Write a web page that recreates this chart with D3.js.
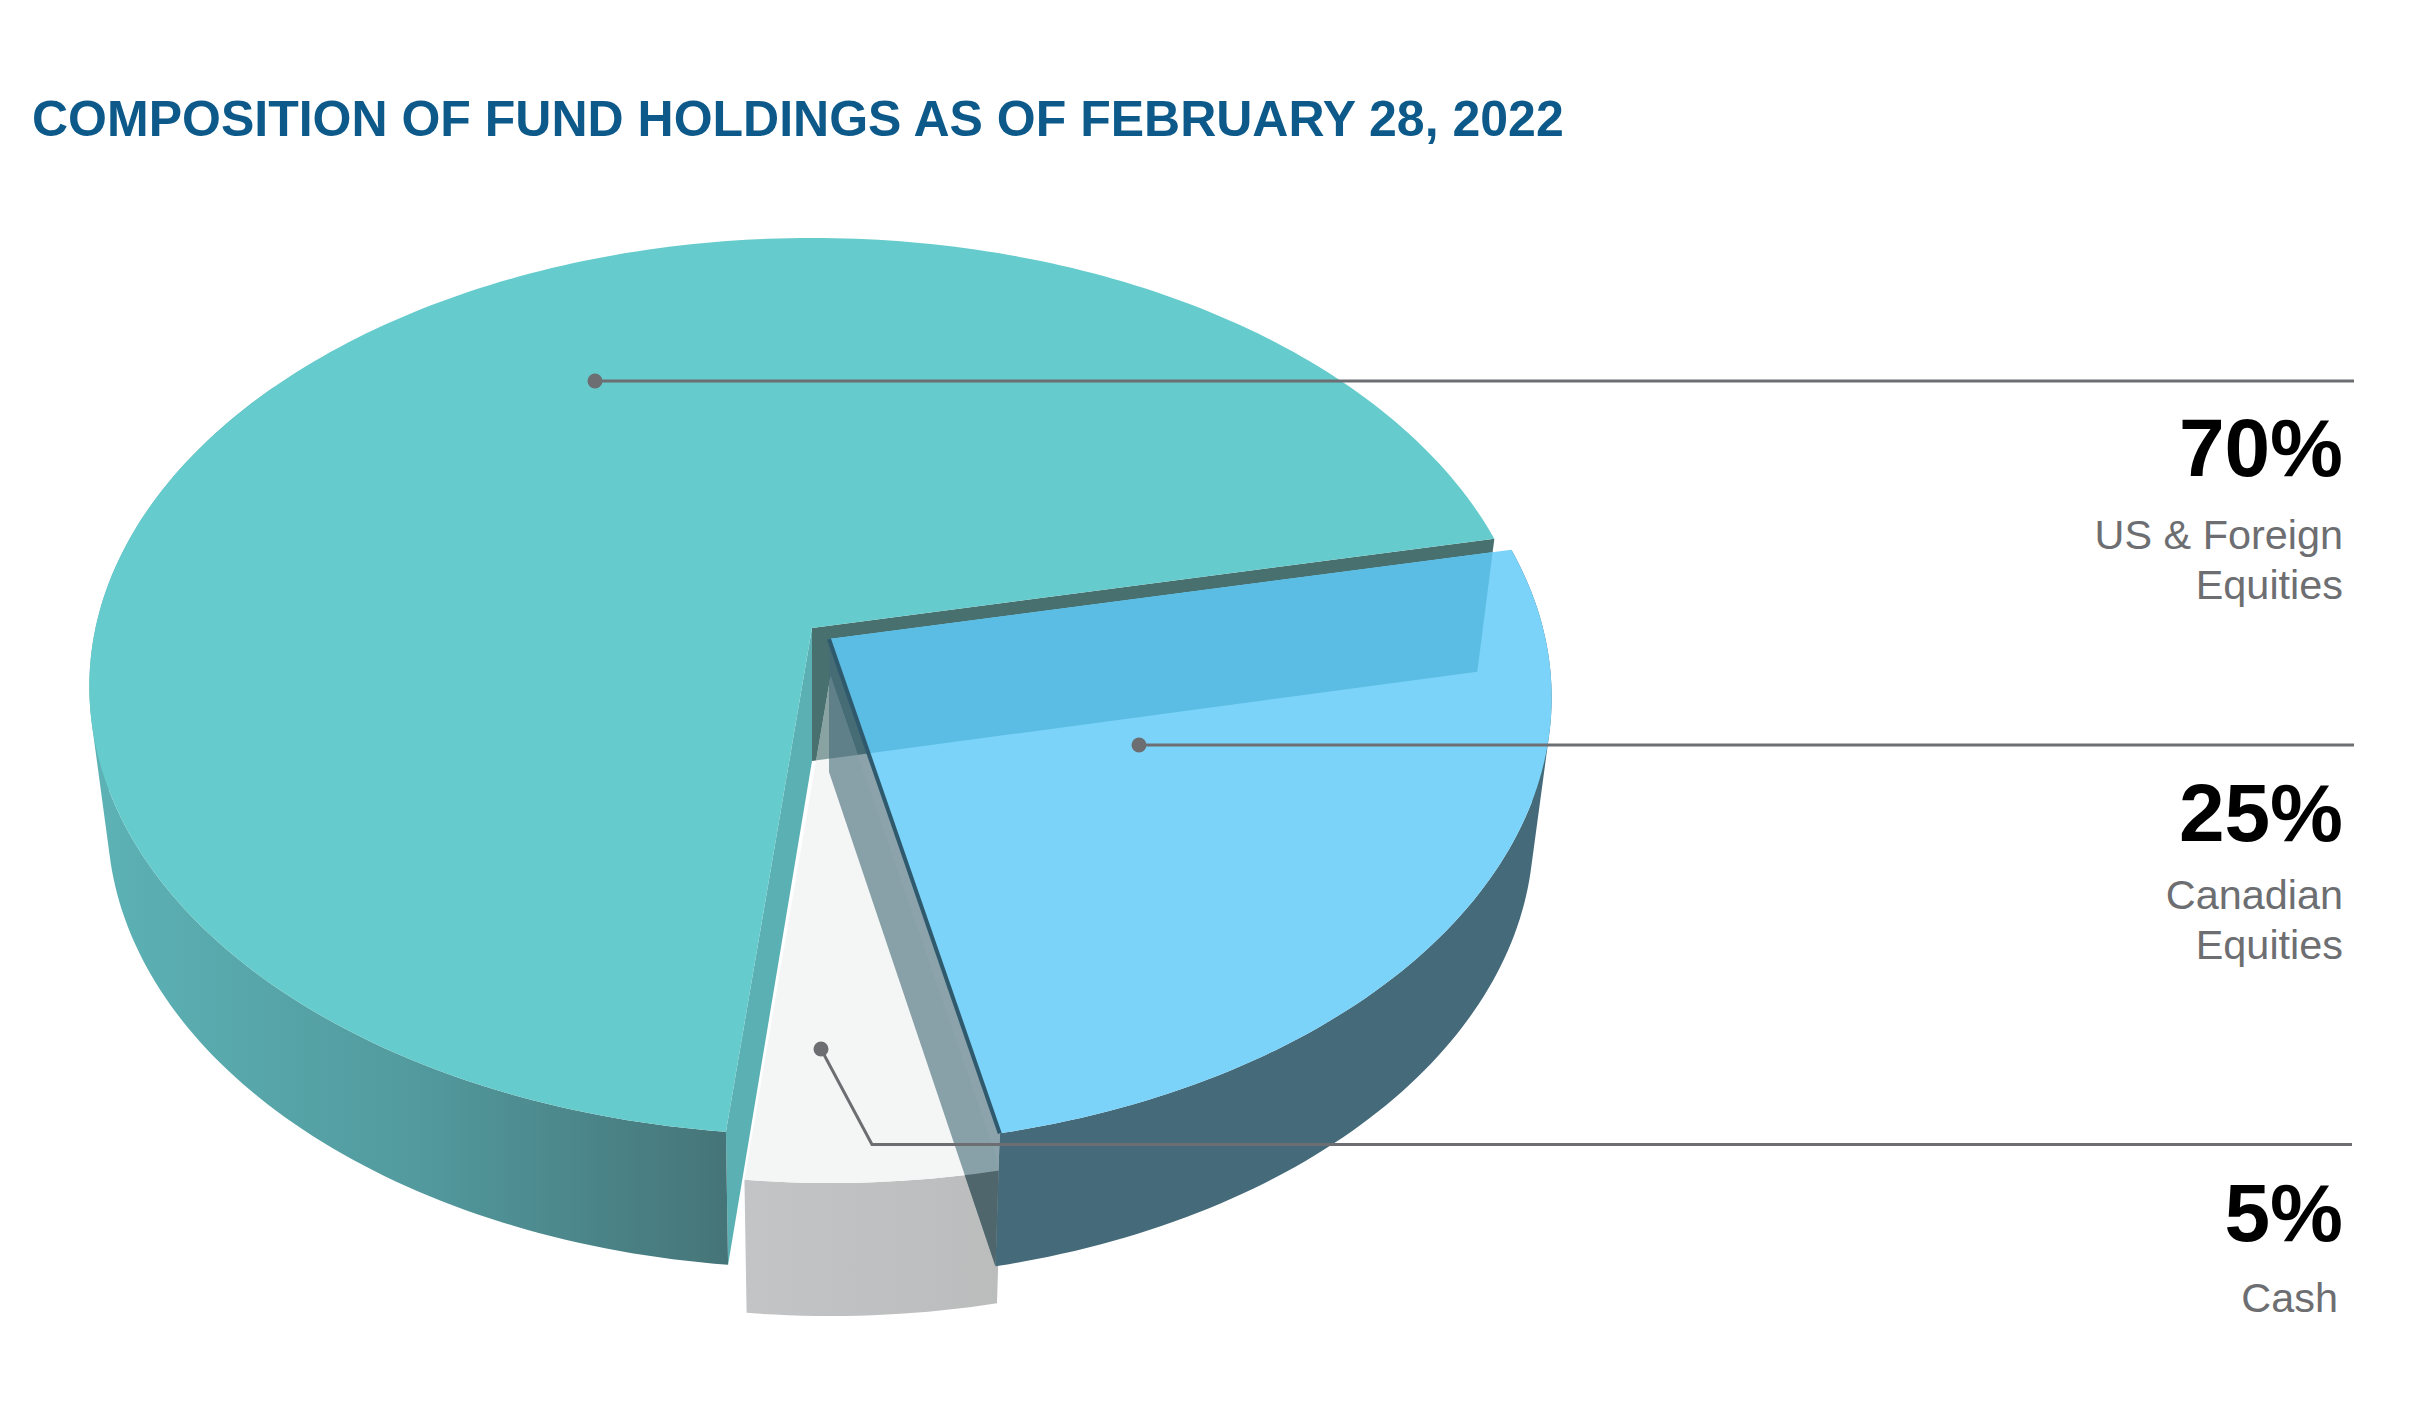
<!DOCTYPE html>
<html><head><meta charset="utf-8">
<script src="https://cdn.jsdelivr.net/npm/d3@7"></script>
<style>html,body{margin:0;padding:0;background:#fff}svg{display:block}text{font-family:"Liberation Sans",Arial,sans-serif}</style>
</head><body><div id="c"></div>
<script>
const categories=["US & Foreign Equities","Canadian Equities","Cash"];
const values=[70,25,5];
const percentLabels=["70%","25%","5%"];
const labelLines=[["US & Foreign","Equities"],["Canadian","Equities"],["Cash"]];
const titleText="COMPOSITION OF FUND HOLDINGS AS OF FEBRUARY 28, 2022";

const W=2423,H=1423,deg=Math.PI/180;
const svg=d3.select("#c").append("svg").attr("width",W).attr("height",H).attr("viewBox",[0,0,W,H]);
const defs=svg.append("defs");

// perspective projection of a pie lying on a plane
const cx=812,cy=628,A=440.9,B=716.5,K=0.1304,depth=133,baseScale=0.975;
const offsets=[[0,0],[17,11],[18.5,48]];
const arcs=d3.pie().sort(null).value(d=>d).startAngle(-174*deg).endAngle(186*deg)(values);

function P(t,r,low,off){
  const u=r*Math.sin(t),v=-r*Math.cos(t),w=1-K*v;
  let x=B*u/w,y=A*v/w;
  if(low){x*=baseScale;y+=depth;}
  return [cx+off[0]+x,cy+off[1]+y];
}
const line=d3.line();
const rim=(a,b,low,off)=>{const n=Math.max(2,Math.ceil(Math.abs(b-a)/deg));return d3.range(n+1).map(i=>P(a+(b-a)*i/n,1,low,off));};
const face=(a,off)=>line(rim(a.startAngle,a.endAngle,false,off).concat([P(0,0,false,off)]))+"Z";
const cut=(t,off)=>line([P(0,0,false,off),P(t,1,false,off),P(t,1,true,off),P(0,0,true,off)])+"Z";
function wall(a0,a1,off){
  const n=Math.ceil(Math.abs(a1-a0)/deg);let d="";
  for(let i=0;i<n;i++){
    const s=a0+(a1-a0)*i/n,e=a0+(a1-a0)*(i+1)/n;
    let q=[P(s,1,false,off),P(e,1,false,off),P(e,1,true,off),P(s,1,true,off)];
    if(d3.polygonArea(q)<0)q.reverse();
    d+=line(q)+"Z";
  }
  return d;
}
function grad(id,x1,x2,stops){
  const g=defs.append("linearGradient").attr("id",id).attr("gradientUnits","userSpaceOnUse").attr("x1",x1).attr("x2",x2).attr("y1",0).attr("y2",0);
  stops.forEach(s=>g.append("stop").attr("offset",s[0]).attr("stop-color",s[1]));
}
grad("gTeal",100,730,[[0,"#5cb2b5"],[.5,"#529a9e"],[1,"#457478"]]);
grad("gCash",745,1005,[[0,"#c3c4c6"],[1,"#bbbcbc"]]);
const clip=(id,d)=>defs.append("clipPath").attr("id",id).append("path").attr("d",d);

const [teal,blue,cash]=arcs;
const [o0,o1,o2]=offsets;
const backWall=cut(teal.endAngle,o0);
clip("cCashTop",face(cash,o2));
const cashWall=wall(cash.startAngle,cash.endAngle,o2);
clip("cCashWall",cashWall);
clip("cBlueTop",face(blue,o1));

const dark="#47706f",slate="#456a79";
const add=(d,fill,extra={})=>{const p=svg.append("path").attr("d",d).attr("fill",fill);Object.entries(extra).forEach(([k,v])=>p.attr(k,v));return p;};

add(backWall,dark);
add(cashWall,"url(#gCash)");
add(face(cash,o2),"#f4f6f5");
add(backWall,dark,{"fill-opacity":.62,"clip-path":"url(#cCashTop)"});
// teal
add(cut(teal.startAngle,o0),"#5bb0b3");
add(wall(teal.startAngle,teal.startAngle+120*deg,o0),"url(#gTeal)");
add(face(teal,o0),"#66cbcc");
// blue
add(wall(blue.startAngle,blue.endAngle,o1),slate);
add(cut(blue.endAngle,o1),slate,{"fill-opacity":.62});
add(cut(blue.endAngle,o1),"#4f666c",{"clip-path":"url(#cCashWall)"});
add(face(blue,o1),"#7bd3f9");
add(backWall,"#5cbde4",{"clip-path":"url(#cBlueTop)"});
// thin dark edge along the blue slice
svg.append("path").attr("d",line([P(0,0,false,o1),P(blue.endAngle,1,false,o1)])).attr("stroke","#2f5a6e").attr("stroke-width",4).attr("fill","none");

// leaders
const ink="#6d6e71";
const leaders=[
  [[595,381],[2354,381]],
  [[1139,745],[2354,745]],
  [[821,1049],[872,1144.5],[2352,1144.5]]
];
leaders.forEach(l=>{
  svg.append("path").attr("d",line(l)).attr("fill","none").attr("stroke",ink).attr("stroke-width",3);
  svg.append("circle").attr("cx",l[0][0]).attr("cy",l[0][1]).attr("r",7.5).attr("fill",ink);
});

// text
svg.append("text").attr("x",32).attr("y",136).attr("font-size",50).attr("font-weight",700).attr("fill","#0d5a8a").text(titleText);
const pctY=[476,841,1240.5];
const labY=[[549,599],[909,959],[1312]];
const labX=[2343,2343,2338];
percentLabels.forEach((t,i)=>{
  svg.append("text").attr("x",2343).attr("y",pctY[i]).attr("text-anchor","end").attr("font-size",82).attr("font-weight",700).attr("fill","#000").text(t);
  labelLines[i].forEach((s,j)=>svg.append("text").attr("x",labX[i]).attr("y",labY[i][j]).attr("text-anchor","end").attr("font-size",41.4).attr("fill",ink).text(s));
});
</script></body></html>
